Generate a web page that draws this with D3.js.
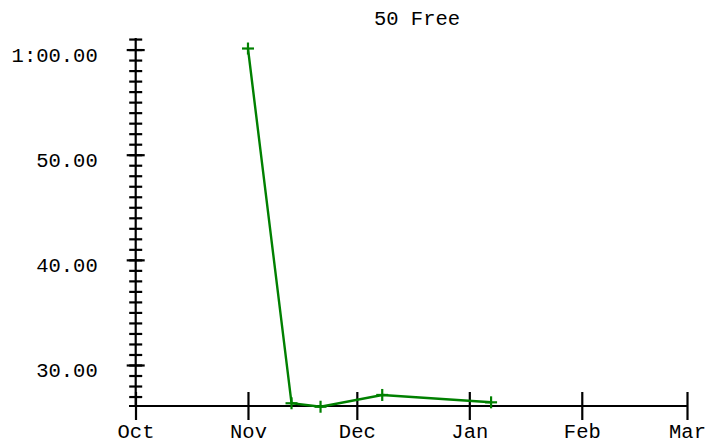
<!DOCTYPE html>
<html>
<head>
<meta charset="utf-8">
<script src="https://cdn.jsdelivr.net/npm/d3@7/dist/d3.min.js"></script>
<style>
  html, body { margin: 0; padding: 0; background: #fff; }
  svg { display: block; }
  text { font-family: "Courier New", "Liberation Mono", monospace; fill: #000; }
</style>
</head>
<body>
<script>
// ---- data ----
const title = "50 Free";
const dates = ["2023-11-01", "2023-11-13", "2023-11-21", "2023-12-08", "2024-01-07"];
const times = [60.1, 26.36, 26.03, 27.15, 26.45];
const monthTicks = ["2023-10-01", "2023-11-01", "2023-12-01", "2024-01-01", "2024-02-01", "2024-03-01"];
const monthLabels = ["Oct", "Nov", "Dec", "Jan", "Feb", "Mar"];
const majorYTicks = [30, 40, 50, 60];
const yLabels = ["30.00", "40.00", "50.00", "1:00.00"];
const minorYTicks = d3.range(27, 62);

// ---- layout ----
const W = 708, H = 444;
const FS = "20.5px";
const parse = d3.timeParse("%Y-%m-%d");
const svg = d3.select("body").append("svg").attr("width", W).attr("height", H);

const x = d3.scaleTime()
  .domain([parse(monthTicks[0]), parse(monthTicks[monthTicks.length - 1])])
  .range([135.5, 687]);
const y = d3.scaleLinear().domain([26.1, 61.1]).range([406, 38]);

// title
svg.append("text").attr("x", 417).attr("y", 25).attr("text-anchor", "middle")
  .style("font-size", FS).text(title);

// y axis (minor ticks)
const yMinor = svg.append("g").attr("transform", "translate(135.7,0)")
  .call(d3.axisLeft(y).tickValues(minorYTicks).tickSize(0).tickFormat(""));
yMinor.select(".domain").remove();
yMinor.selectAll(".tick line").attr("x1", -6.5).attr("x2", 6.5)
  .attr("stroke", "#000").attr("stroke-width", 2.2);

// y axis (major ticks + labels)
const yMajor = svg.append("g").attr("transform", "translate(135.7,0)")
  .call(d3.axisLeft(y).tickValues(majorYTicks).tickSize(0)
    .tickFormat((d, i) => yLabels[i]));
yMajor.select(".domain").remove();
yMajor.selectAll(".tick line").attr("x1", -9).attr("x2", 9)
  .attr("stroke", "#000").attr("stroke-width", 2.2);
yMajor.selectAll(".tick text").attr("x", -38).attr("dy", null).attr("y", 11.5)
  .attr("text-anchor", "end").attr("fill", "#000")
  .style("font-size", FS).style("font-family", "'Courier New','Liberation Mono',monospace");

// y axis line
svg.append("line").attr("x1", 135.7).attr("x2", 135.7).attr("y1", y.range()[1]).attr("y2", 406)
  .attr("stroke", "#000").attr("stroke-width", 2.2);

// x axis
const xAxis = svg.append("g").attr("transform", "translate(0,406)")
  .call(d3.axisBottom(x).tickValues(monthTicks.map(parse)).tickSize(0)
    .tickFormat((d, i) => monthLabels[i]));
xAxis.select(".domain").remove();
xAxis.selectAll(".tick line").attr("y1", -14).attr("y2", 14)
  .attr("stroke", "#000").attr("stroke-width", 2.2);
xAxis.selectAll(".tick text").attr("dy", null).attr("y", 32).attr("fill", "#000")
  .style("font-size", FS).style("font-family", "'Courier New','Liberation Mono',monospace");
svg.append("line").attr("x1", 129).attr("x2", x.range()[1]).attr("y1", 406).attr("y2", 406)
  .attr("stroke", "#000").attr("stroke-width", 2.2);

// series
const pts = dates.map((d, i) => ({ date: parse(d), v: times[i] }));
svg.append("path").datum(pts)
  .attr("fill", "none").attr("stroke", "#008000").attr("stroke-width", 2.4)
  .attr("d", d3.line().x(d => x(d.date)).y(d => y(d.v)));

const m = svg.append("g").selectAll("g").data(pts).join("g")
  .attr("transform", d => `translate(${x(d.date)},${y(d.v)})`);
m.append("line").attr("x1", -6).attr("x2", 6).attr("stroke", "#008000").attr("stroke-width", 2.2);
m.append("line").attr("y1", -6).attr("y2", 6).attr("stroke", "#008000").attr("stroke-width", 2.2);
</script>
</body>
</html>
